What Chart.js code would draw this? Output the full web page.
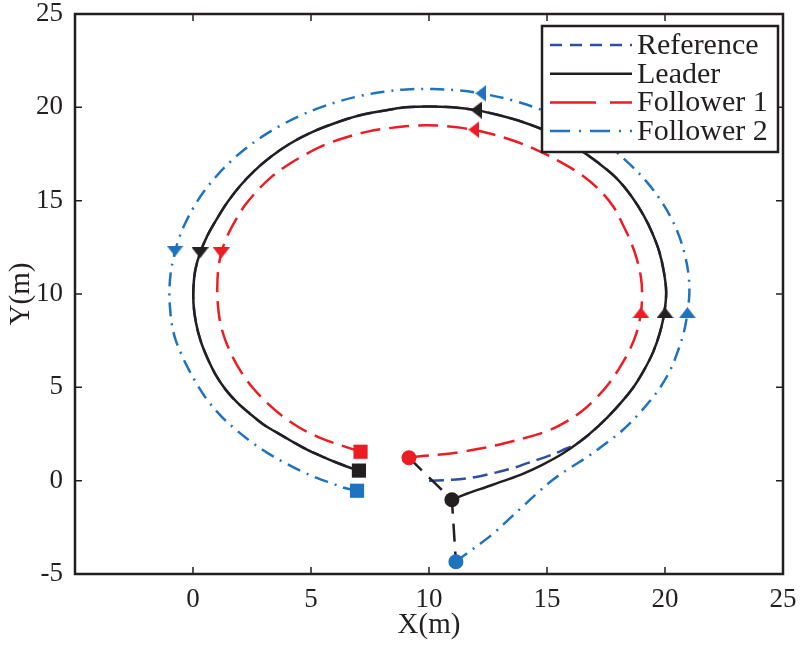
<!DOCTYPE html>
<html><head><meta charset="utf-8">
<script src="https://cdn.jsdelivr.net/npm/chart.js@4/dist/chart.umd.min.js"></script>
<style>html,body{margin:0;padding:0;background:#fff}</style>
</head><body>
<canvas id="c" width="800" height="646"></canvas>
<script>
const xTicks = [-5, 0, 5, 10, 15, 20, 25];
const yTicks = [-5, 0, 5, 10, 15, 20, 25];
const seriesNames = ['Reference', 'Leader', 'Follower 1', 'Follower 2'];

const refX = [10.0,11.0,12.0,12.7,13.5,14.2,14.9,15.6,16.4,17.2,17.9,18.6,19.1,19.5,19.8,19.97,20.05,19.95,19.75,19.45,19.1,18.6,17.95,17.2,16.3,15.2,14.0,12.9,12.0,11.0,10.0,9.0,8.0,7.0,6.0,5.0,4.1,3.3,2.6,2.0,1.45,1.0,0.6,0.3,0.1,0.02,0.02,0.12,0.32,0.6,0.95,1.4,1.9,2.4,3.0,3.56,4.2,4.83,5.5,6.1,6.6,7.03];
const refY = [0.0,0.05,0.2,0.4,0.65,0.95,1.25,1.6,2.1,2.95,3.85,4.9,5.9,6.9,8.0,9.0,10.1,11.2,12.3,13.3,14.2,15.2,16.2,17.0,17.8,18.6,19.2,19.6,19.85,20.0,20.05,20.0,19.8,19.55,19.15,18.65,18.05,17.35,16.6,15.8,14.9,14.0,13.1,12.2,11.3,10.4,9.5,8.5,7.5,6.6,5.7,4.85,4.15,3.6,3.0,2.57,2.1,1.66,1.28,0.96,0.72,0.54];

const leaderX = [10.97,11.6,12.4,13.2,14.0,14.8,15.6,16.4,17.2,17.9,18.6,19.1,19.5,19.8,19.97,20.05,19.95,19.75,19.45,19.1,18.6,17.95,17.2,16.3,15.2,14.0,12.9,12.0,11.0,10.0,9.0,8.0,7.0,6.0,5.0,4.1,3.3,2.6,2.0,1.45,1.0,0.6,0.3,0.1,0.02,0.02,0.12,0.32,0.6,0.95,1.4,1.9,2.4,3.0,3.56,4.2,4.83,5.5,6.1,6.6,7.03];
const leaderY = [-1.02,-0.7,-0.35,0.0,0.38,0.85,1.4,2.1,2.95,3.85,4.9,5.9,6.9,8.0,9.0,10.1,11.2,12.3,13.3,14.2,15.2,16.2,17.0,17.8,18.6,19.2,19.6,19.85,20.0,20.05,20.0,19.8,19.55,19.15,18.65,18.05,17.35,16.6,15.8,14.9,14.0,13.1,12.2,11.3,10.4,9.5,8.5,7.5,6.6,5.7,4.85,4.15,3.6,3.0,2.57,2.1,1.66,1.28,0.96,0.72,0.54];

const f1X = [9.15,9.8,10.6,11.4,12.3,13.2,14.1,15.0,15.8,16.5,17.1,17.65,18.1,18.5,18.8,18.98,19.03,18.98,18.8,18.55,18.2,17.8,17.2,16.5,15.6,14.6,13.5,12.4,11.4,10.4,9.4,8.4,7.4,6.5,5.6,4.8,4.0,3.3,2.7,2.2,1.8,1.45,1.2,1.07,1.03,1.05,1.15,1.35,1.65,2.05,2.55,3.15,3.8,4.5,5.2,5.9,6.5,7.1];
const f1Y = [1.23,1.33,1.42,1.55,1.75,2.0,2.3,2.65,3.15,3.75,4.45,5.25,6.1,7.0,7.95,9.0,10.0,10.9,11.9,12.8,13.75,14.7,15.6,16.35,17.05,17.7,18.25,18.65,18.9,19.02,19.02,18.9,18.7,18.4,18.0,17.5,16.9,16.25,15.5,14.75,13.95,13.1,12.2,11.3,10.4,9.5,8.5,7.6,6.7,5.8,4.95,4.15,3.45,2.85,2.4,2.05,1.8,1.55];

const f2X = [11.14,11.6,12.2,12.8,13.4,14.0,14.6,15.25,16.0,16.8,17.5,18.2,18.8,19.35,19.85,20.25,20.55,20.8,20.95,21.03,21.0,20.85,20.6,20.25,19.8,19.2,18.55,17.8,16.9,15.9,14.8,13.6,12.4,11.3,10.2,9.04,8.09,7.15,6.24,5.35,4.5,3.69,2.93,2.22,1.57,0.99,0.47,0.03,-0.34,-0.63,-0.83,-0.96,-1.0,-0.97,-0.9,-0.75,-0.5,-0.2,0.2,0.65,1.2,1.8,2.5,3.2,3.9,4.6,5.3,5.9,6.4,6.95];
const f2Y = [-4.34,-3.9,-3.35,-2.75,-2.05,-1.35,-0.65,0.05,0.7,1.35,2.0,2.7,3.45,4.25,5.1,6.0,6.95,7.95,9.0,10.0,11.0,12.05,13.1,14.1,15.05,16.05,16.9,17.75,18.55,19.25,19.85,20.35,20.7,20.9,20.98,20.96,20.83,20.63,20.34,19.97,19.53,19.01,18.43,17.78,17.07,16.31,15.5,14.65,13.76,12.85,11.91,10.96,10.0,9.2,8.4,7.6,6.8,6.0,5.1,4.25,3.45,2.75,2.05,1.45,0.95,0.5,0.12,-0.15,-0.38,-0.54];

const leaderArrowX = [20.0, 12.0, 0.3];
const leaderArrowY = [9.0, 19.85, 12.2];
const f1ArrowX = [18.98, 11.9, 1.2];
const f1ArrowY = [9.0, 18.8, 12.2];
const f2ArrowX = [20.95, 12.2, -0.76];
const f2ArrowY = [9.0, 20.75, 12.3];
const arrowDir = [0, 270, 180];

// ---- styling ----
const C_REF = '#2e4ea4', C_LEAD = '#231f20', C_F1 = '#ed1c24', C_F2 = '#1f72bd';
const FONT = '"Liberation Serif", "Times New Roman", serif';
const pts = (xs, ys) => xs.map((x, i) => ({x, y: ys[i]}));
const first = (xs, ys) => ({x: xs[0], y: ys[0]});
const last = (xs, ys) => ({x: xs[xs.length - 1], y: ys[ys.length - 1]});

function tri(color) {
  const c = document.createElement('canvas');
  c.width = 17; c.height = 11;
  const g = c.getContext('2d');
  g.fillStyle = color;
  g.beginPath(); g.moveTo(8.5, 0); g.lineTo(17, 11); g.lineTo(0, 11); g.closePath(); g.fill();
  return c;
}

const lineDs = (label, data, color, dash, order) => ({
  type: 'line', label, data, borderColor: color, backgroundColor: color,
  borderWidth: 2.5, borderDash: dash, pointRadius: 0, pointHoverRadius: 0,
  fill: false, tension: 0.35, showLine: true, order
});
const arrowDs = (xs, ys, color) => ({
  type: 'scatter', label: '', data: pts(xs, ys), pointStyle: tri(color),
  pointRotation: arrowDir, pointRadius: 8, order: 0, showLine: false
});
const markDs = (data, color, style, r) => ({
  type: 'scatter', label: '', data, pointStyle: style, pointRadius: r,
  pointBackgroundColor: color, pointBorderColor: color, pointBorderWidth: 0, order: 0, showLine: false
});

const datasets = [
  lineDs(seriesNames[0], pts(refX, refY), C_REF, [15, 7], 5),
  lineDs(seriesNames[1], pts(leaderX, leaderY), C_LEAD, [], 2),
  lineDs(seriesNames[2], pts(f1X, f1Y), C_F1, [20, 9], 3),
  lineDs(seriesNames[3], pts(f2X, f2Y), C_F2, [14, 7, 2, 7], 4),
  Object.assign(lineDs('', [first(f1X, f1Y), first(leaderX, leaderY), first(f2X, f2Y)], C_LEAD, [18, 10], 1), {tension: 0}),
  arrowDs(leaderArrowX, leaderArrowY, C_LEAD),
  arrowDs(f1ArrowX, f1ArrowY, C_F1),
  arrowDs(f2ArrowX, f2ArrowY, C_F2),
  markDs([first(f1X, f1Y)], C_F1, 'circle', 7.5),
  markDs([first(leaderX, leaderY)], C_LEAD, 'circle', 7.5),
  markDs([first(f2X, f2Y)], C_F2, 'circle', 7.5),
  markDs([last(f1X, f1Y)], C_F1, 'rect', 10),
  markDs([last(leaderX, leaderY)], C_LEAD, 'rect', 10),
  markDs([last(f2X, f2Y)], C_F2, 'rect', 10)
];

const legendStyles = [
  {color: C_REF, dash: [12, 8]},
  {color: C_LEAD, dash: []},
  {color: C_F1, dash: [46, 14]},
  {color: C_F2, dash: [20, 9, 2, 9]}
];

const framePlugin = {
  id: 'frameTicksLegend',
  afterDatasetsDraw(chart) {
    const {ctx, chartArea: a, scales: {x, y}} = chart;
    ctx.save();
    ctx.strokeStyle = C_LEAD;
    ctx.lineWidth = 1.5;
    ctx.setLineDash([]);
    ctx.beginPath();
    xTicks.forEach(v => {
      const px = x.getPixelForValue(v);
      ctx.moveTo(px, a.bottom); ctx.lineTo(px, a.bottom - 7);
      ctx.moveTo(px, a.top); ctx.lineTo(px, a.top + 7);
    });
    yTicks.forEach(v => {
      const py = y.getPixelForValue(v);
      ctx.moveTo(a.left, py); ctx.lineTo(a.left + 7, py);
      ctx.moveTo(a.right, py); ctx.lineTo(a.right - 7, py);
    });
    ctx.stroke();
    ctx.lineWidth = 2.5;
    ctx.strokeRect(a.left, a.top, a.right - a.left, a.bottom - a.top);

    // legend box
    const bx = 542, by = 26, bw = 236, bh = 126;
    ctx.fillStyle = '#fff';
    ctx.fillRect(bx, by, bw, bh);
    ctx.lineWidth = 2.5;
    ctx.strokeStyle = C_LEAD;
    ctx.strokeRect(bx, by, bw, bh);
    ctx.font = '30px ' + FONT;
    ctx.textBaseline = 'middle';
    ctx.textAlign = 'left';
    seriesNames.forEach((name, i) => {
      const cy = 45 + i * 28.7;
      const st = legendStyles[i];
      ctx.strokeStyle = st.color;
      ctx.lineWidth = 2.5;
      ctx.setLineDash(st.dash);
      ctx.beginPath(); ctx.moveTo(550, cy); ctx.lineTo(632, cy); ctx.stroke();
      ctx.setLineDash([]);
      ctx.fillStyle = '#231f20';
      ctx.fillText(name, 637, cy + 1);
    });
    ctx.restore();
  }
};

const noPad = s => { s.paddingTop = 0; s.paddingBottom = 0; s.paddingLeft = 0; s.paddingRight = 0; };

new Chart(document.getElementById('c'), {
  type: 'scatter',
  data: {datasets},
  options: {
    responsive: false,
    devicePixelRatio: 1,
    animation: false,
    events: [],
    layout: {padding: {top: 14, right: 17, left: 0, bottom: 0}},
    plugins: {legend: {display: false}, tooltip: {enabled: false}},
    scales: {
      x: {
        type: 'linear', min: -5, max: 25,
        afterBuildTicks: s => { s.ticks = xTicks.map(v => ({value: v})); },
        afterFit: s => { s.height = 72; noPad(s); },
        grid: {display: false, drawTicks: false},
        border: {display: false},
        ticks: {
          callback: v => (v === -5 ? '' : String(v)),
          font: {family: FONT, size: 27, lineHeight: 1.0}, color: '#231f20', padding: 12, maxRotation: 0
        },
        title: {display: true, text: 'X(m)', font: {family: FONT, size: 29}, color: '#231f20', padding: {top: 0, bottom: 3}}
      },
      y: {
        type: 'linear', min: -5, max: 25,
        afterBuildTicks: s => { s.ticks = yTicks.map(v => ({value: v})); },
        afterFit: s => { s.width = 75; noPad(s); },
        grid: {display: false, drawTicks: false},
        border: {display: false},
        ticks: {
          callback: v => String(v),
          font: {family: FONT, size: 27, lineHeight: 1.0}, color: '#231f20', padding: 12
        },
        title: {display: true, text: 'Y(m)', font: {family: FONT, size: 29}, color: '#231f20', padding: {top: 4, bottom: 0}}
      }
    }
  },
  plugins: [framePlugin]
});
</script>
</body></html>
